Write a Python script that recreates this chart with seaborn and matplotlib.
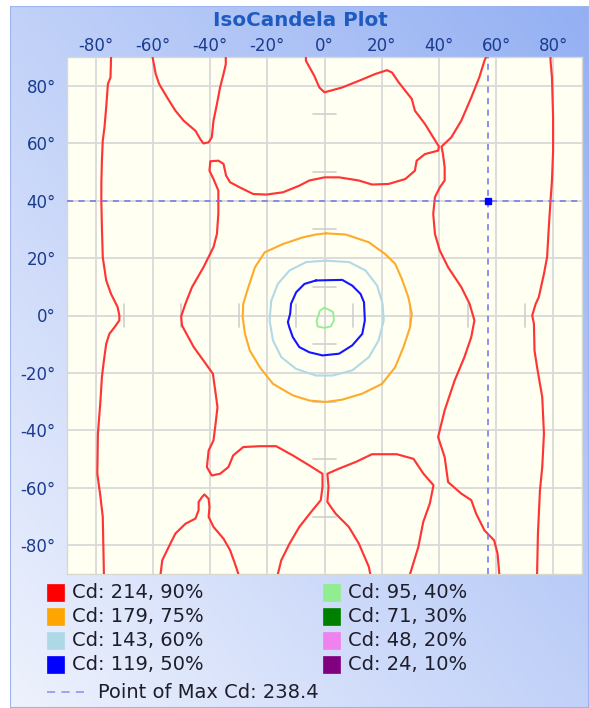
import numpy as np
import matplotlib
matplotlib.use("Agg")
import matplotlib.pyplot as plt
from matplotlib.patches import Rectangle
from matplotlib.lines import Line2D
import seaborn as sns

# ------------------------------------------------------------------ data
x_ticks = [-80, -60, -40, -20, 0, 20, 40, 60, 80]
x_tick_labels = ["-80°", "-60°", "-40°", "-20°", "0°", "20°", "40°", "60°", "80°"]
y_ticks = [-80, -60, -40, -20, 0, 20, 40, 60, 80]
y_tick_labels = ["-80°", "-60°", "-40°", "-20°", "0°", "20°", "40°", "60°", "80°"]
minor_ticks = [-70, -50, -30, -10, 10, 30, 50, 70]

legend_labels = ["Cd: 214, 90%", "Cd: 179, 75%", "Cd: 143, 60%", "Cd: 119, 50%",
                 "Cd: 95, 40%", "Cd: 71, 30%", "Cd: 48, 20%", "Cd: 24, 10%"]
legend_colors = ["#ff0000", "#ffa500", "#add8e6", "#0000ff",
                 "#90ee90", "#008000", "#ee82ee", "#800080"]
max_label = "Point of Max Cd: 238.4"
max_x = 57
max_y = 40

# 90% (red) contour pieces, in degrees
red1_x = [-74.6, -74.8, -75.7, -76.3, -76.9, -77.5, -77.8, -78.0, -78.0, -77.8, -77.5, -76.3,
          -74.6, -72.3, -71.7, -71.7, -73.4, -75.2, -76.3, -77.1, -77.8, -78.3, -79.2, -79.4,
          -78.3, -77.5, -77.1]
red1_y = [90, 82.9, 80.6, 72.5, 65.5, 60.9, 53.9, 45.8, 40, 30.7, 20.3, 12.2,
          7.5, 2.9, 0, -1.7, -4.1, -6.4, -9.9, -15.7, -21.4, -29.6, -41.2, -55.1,
          -63.2, -70.1, -90]

red2_x = [-60.1, -59.0, -57.8, -55.0, -52.1, -49.2, -45.1, -43.4, -42.3, -40.5, -39.4, -38.8,
          -37.6, -36.5, -35.3, -34.5, -34.5]
red2_y = [90, 84.1, 80.6, 75.9, 71.3, 67.8, 64.3, 61.4, 59.9, 60.3, 62, 67.8,
          73.6, 79.4, 84.1, 87.5, 90]

red3_x = [-6.5, -6.5, -3.6, -1.8, 0, 6.2, 12.0, 17.8, 21.8, 23.6, 25.9, 30.5, 31.6, 35.1, 38.0,
          40.0, 39.7, 35.1, 32.2, 31.6, 28.2, 22.4, 16.6, 12.0, 5.1, 0, -5.3, -8.8, -14.5,
          -20.3, -24.9, -29.6, -33.0, -34.4, -35.3, -37.1, -39.9, -40.2, -38.8, -37.1, -37.1,
          -37.6, -38.8, -42.3, -46.3, -48.6, -50.1, -49.8, -45.7, -42.3, -39.0, -38.2, -37.4,
          -38.2, -38.8, -40.5, -41.1, -39.4, -36.5, -33.6, -31.9, -28.4, -22.6, -16.9, -11.1,
          -5.3, -0.7, -0.7, -1.3, -4.2, -8.8, -12.2, -15.1, -16.3]
red3_y = [90, 88.7, 83.5, 79.4, 77.7, 79.4, 81.7, 84.1, 85.4, 84.6, 81.2, 75.4, 71.3, 66.7, 62.0,
          58.8, 57.4, 56.2, 53.9, 50.4, 47.5, 45.8, 45.6, 47, 48.1, 48.1, 47, 45.2, 42.9,
          42.1, 42.3, 44.6, 46.4, 48.7, 52.8, 53.9, 53.7, 50.4, 47.5, 43.5, 35.4,
          28.4, 23.8, 16.8, 9.9, 4.1, -0.3, -3.5, -11.0, -15.7, -20.3, -26.1, -31.9,
          -38.8, -43.5, -47, -52.8, -55.7, -55.1, -52.8, -48.7, -45.8, -45.5, -45.5, -48.7,
          -52.2, -55.1, -59.7, -64.3, -67.8, -73.6, -79.4, -85.2, -90]

red4_x = [56.5, 55.9, 54.1, 51.3, 47.8, 44.3, 40.9, 41.4, 42.0, 42.0, 40.3, 38.6, 38.0, 38.6,
          40.3, 43.2, 47.8, 50.7, 52.4, 51.3, 48.9, 45.5, 42.0, 39.7, 42.0, 43.2, 47.8, 51.3,
          53.0, 55.9, 59.3, 60.5, 61.1]
red4_y = [90, 88.7, 82.9, 75.9, 67.8, 62.0, 58.8, 56.2, 51.6, 47, 44.6, 41.2, 35.4, 28.4,
          22.6, 16.8, 9.9, 4.1, -1.7, -7.5, -14.5, -22.6, -33, -42.3, -49.3, -58, -62, -64.3,
          -69, -74.8, -78.3, -83, -90]

red5_x = [16.0, 15.5, 12.0, 8.5, 3.9, 1.0, 1.4, 1.0, 5.1, 10.9, 16.6, 25.3, 31.1, 34.6, 38.1,
          36.8, 34.5, 32.8, 29.9]
red5_y = [-90, -87.5, -79.4, -73.6, -69, -64.9, -59.7, -55.1, -53.3, -51, -48.3, -48.3, -49.9,
          -55.1, -59.1, -65.5, -71.9, -80.6, -90]

red6_x = [-57.3, -56.7, -55, -52.1, -48.6, -45.1, -44, -44, -42.8, -42.0, -40.5, -40.2, -40.5,
          -38.8, -35.3, -33.0, -31.3, -30.1]
red6_y = [-90, -85.2, -81.7, -75.9, -72.5, -70.7, -67.8, -64.9, -63.2, -62.3, -63.8, -66.7, -70.1,
          -73.6, -77.7, -81.7, -86.4, -90]

red7_x = [79.0, 79.0, 79.5, 79.9, 79.9, 79.5, 79.0, 78.4, 77.8, 76.7, 74.9, 73.8, 72.6, 73.2,
          73.4, 74.3, 76.1, 76.7, 76.1, 75.3, 74.6, 74.3]
red7_y = [90, 88.7, 82.9, 69, 57.4, 47, 40, 30.7, 20.3, 14.5, 6.4, 4, 0, -2.9,
          -12.2, -18, -28.4, -41.2, -52.8, -60.9, -75.9, -90]

# 75% (orange)
orange_x = [0.5, 7.4, 15.5, 21.2, 24.7, 27.0, 29.3, 30.5, 29.9, 27.6, 24.7, 20.1, 13.2, 6.2, 0.5,
            -5.3, -11.1, -18.0, -22.6, -26.1, -27.8, -28.6, -28.4, -26.6, -24.3, -20.9, -14.5,
            -7.6, -3.0, 0.5]
orange_y = [28.6, 28.2, 25.5, 21.4, 18, 12.8, 6.4, 0.6, -4.1, -11, -18, -23.8, -27.2, -29.3, -30.1,
            -29.6, -27.8, -23.8, -18, -12.2, -6.4, -0.6, 4.1, 9.9, 16.8, 22, 24.9,
            27.2, 28.2, 28.6]

# 60% (light blue)
lblue_x = [0.5, 8.6, 14.3, 18.4, 20.3, 20.7, 18.9, 15.5, 9.7, 2.8, -3.0, -9.9, -15.1, -18.0,
           -19.2, -18.6, -16.3, -12.2, -6.4, 0.5]
lblue_y = [19.1, 18.6, 15.7, 10.4, 4.1, -1.7, -8.7, -14.5, -19.1, -20.9, -20.9, -18.6, -14.5, -8.7,
           -1.7, 5.2, 11, 15.7, 18.6, 19.1]

# 50% (blue)
blue_x = [-3.0, 6.2, 9.7, 12.6, 13.8, 14.1, 13.2, 9.7, 5.1, -0.7, -5.3, -8.8, -11.1, -12.3,
          -12.8, -12.0, -11.7, -9.9, -7.0, -3.0]
blue_y = [12.2, 12.4, 10.4, 7.5, 4.6, -1.7, -6.4, -10.4, -13.3, -13.9, -12.8, -11, -7.5, -4.1,
          -2.3, 0.6, 4.1, 8.1, 11, 12.2]

# 40% (light green)
green_x = [-0.1, 1.6, 3.0, 3.3, 2.2, -0.1, -2.4, -2.8, -2.1, -1.6, -0.1]
green_y = [2.7, 2.0, 1.2, -1.7, -3.8, -4.3, -3.8, -1.7, 0, 1.7, 2.7]

# ------------------------------------------------------------------ figure
W, H = 589, 708
sns.set_style("white")
plt.rcParams["font.family"] = ["DejaVu Sans"]

fig = plt.figure(figsize=(W / 100, H / 100), dpi=100)
fig.patch.set_facecolor("white")

# gradient panel background
bg = fig.add_axes([10 / W, 0, (W - 10) / W, (H - 6) / H])
bg.set_axis_off()
gx, gy = np.meshgrid(np.linspace(0, 1, 300), np.linspace(1, 0, 300))
t = (gx + gy) / 2.0
c0 = np.array([0xee, 0xf2, 0xfd]) / 255.0
c1 = np.array([0x94, 0xb0, 0xf3]) / 255.0
img = c0[None, None, :] * (1 - t[..., None]) + c1[None, None, :] * t[..., None]
bg.imshow(img, aspect="auto", extent=[0, 1, 0, 1], interpolation="bilinear")
bg.set_xlim(0, 1)
bg.set_ylim(0, 1)
bg.add_patch(Rectangle((0, 0), 1, 1, fill=False, edgecolor="#9db3ee", lw=1.5,
                       transform=bg.transAxes))

# main plot
L, R, T, B = 67, 582, 57, 574
ax = fig.add_axes([L / W, (H - B) / H, (R - L) / W, (B - T) / H])
ax.set_facecolor("#fffff2")
ax.set_xlim(-90, 90)
ax.set_ylim(-90, 90)

ax.set_xticks(x_ticks)
ax.set_xticklabels(x_tick_labels)
ax.set_yticks(y_ticks)
ax.set_yticklabels(y_tick_labels)
ax.xaxis.tick_top()
ax.tick_params(axis="x", length=0, pad=1.5, labelsize=12, labelcolor="#1b3c8e")
ax.tick_params(axis="y", length=0, pad=8, labelsize=12, labelcolor="#1b3c8e")
ax.grid(True, color="#d9d9d9", lw=1.3)
ax.set_axisbelow(True)
for s in ax.spines.values():
    s.set_color("#d8d8d0")
    s.set_linewidth(1.0)

# minor crosshair ticks along the axes
for m in minor_ticks:
    ax.plot([-4, 4], [m, m], color="#cfcfcf", lw=1.2, zorder=1)
    ax.plot([m, m], [-4, 4], color="#cfcfcf", lw=1.2, zorder=1)

# contours
reds = [(red1_x, red1_y), (red2_x, red2_y), (red3_x, red3_y), (red4_x, red4_y),
        (red5_x, red5_y), (red6_x, red6_y), (red7_x, red7_y)]
for xs, ys in reds:
    sns.lineplot(x=xs, y=ys, sort=False, estimator=None, color="#ff3535", lw=1.55,
                 ax=ax, zorder=3)
sns.lineplot(x=orange_x, y=orange_y, sort=False, estimator=None, color="#ffaa2a", lw=1.5, ax=ax, zorder=3)
sns.lineplot(x=lblue_x, y=lblue_y, sort=False, estimator=None, color="#b0dae6", lw=1.5, ax=ax, zorder=3)
sns.lineplot(x=blue_x, y=blue_y, sort=False, estimator=None, color="#1515ff", lw=1.5, ax=ax, zorder=3)
sns.lineplot(x=green_x, y=green_y, sort=False, estimator=None, color="#90ee90", lw=1.3, ax=ax, zorder=3)

# point of max
ax.axhline(max_y, color="#7272ee", lw=1.1, dashes=(4, 3.5), zorder=4)
ax.axvline(max_x, color="#7272ee", lw=1.1, dashes=(4, 3.5), zorder=4)
ax.plot([max_x], [max_y], marker="s", ms=4.5, color="#0000ff", zorder=5)
ax.set_xlabel("")
ax.set_ylabel("")
if ax.get_legend() is not None:
    ax.get_legend().remove()

# title
fig.text(300 / W, 1 - 21 / H, "IsoCandela Plot", ha="center", va="center",
         fontsize=14.3, fontweight="bold", color="#1f5bbf")

# legend (drawn in pixel layout)
def px(x, y):
    return x / W, 1 - y / H

rows = [592, 616, 640, 664]
cols = [(47, 72), (323, 348)]
for i, (lab, col) in enumerate(zip(legend_labels, legend_colors)):
    cx, tx = cols[i // 4]
    ry = rows[i % 4]
    fx, fy = px(cx, ry + 8.5)
    fig.add_artist(Rectangle((fx, fy), 17 / W, 17 / H, transform=fig.transFigure,
                             facecolor=col, edgecolor=col, lw=0.5))
    tx_, ty_ = px(tx, ry)
    fig.text(tx_, ty_, lab, ha="left", va="center", fontsize=14, color="#1e1e2a")

lx0, ly = px(47, 692)
lx1, _ = px(89, 692)
fig.add_artist(Line2D([lx0, lx1], [ly, ly], transform=fig.transFigure, color="#9a9af5",
                      lw=1.3, dashes=(4.5, 3.5)))
tx_, ty_ = px(98, 692)
fig.text(tx_, ty_, max_label, ha="left", va="center", fontsize=14, color="#1e1e2a")

fig.savefig("out.png", dpi=100, facecolor=fig.get_facecolor())
